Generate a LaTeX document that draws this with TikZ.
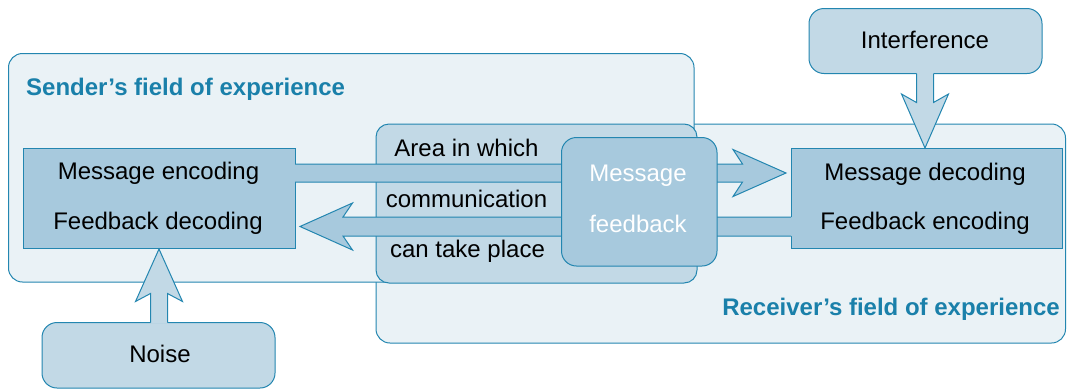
\documentclass[tikz,border=0pt]{standalone}
\usepackage{fontspec}
\setmainfont{Liberation Sans}
\definecolor{edge}{HTML}{2386B0}
\definecolor{ttlcol}{HTML}{1A80AA}
\definecolor{pale}{HTML}{EAF2F6}
\definecolor{mid}{HTML}{C2D9E6}
\definecolor{deep}{HTML}{A7C9DD}
\tikzset{
  field/.style={draw=edge, fill=pale, line width=1pt, rounded corners=14pt, inner sep=0pt, shape=rectangle},
  areabox/.style={draw=edge, fill=mid, line width=1pt, rounded corners=13pt, inner sep=0pt, shape=rectangle},
  proc/.style={draw=edge, fill=deep, line width=1pt, inner sep=0pt, shape=rectangle},
  srcbox/.style={draw=edge, fill=mid, line width=1pt, rounded corners=15pt, inner sep=0pt, shape=rectangle},
  fbbox/.style={draw=edge, fill=deep, line width=1pt, rounded corners=15pt, inner sep=0pt, shape=rectangle},
  lbl/.style={font=\fontsize{24}{28}\selectfont, text=black, anchor=base, inner sep=0pt},
  wlbl/.style={lbl, text=white},
  ttl/.style={font=\bfseries\fontsize{24}{28}\selectfont, text=ttlcol, inner sep=0pt},
  arrline/.style={draw=edge, line width=1pt, line join=miter},
}
\begin{document}
\begin{tikzpicture}[x=1pt,y=-1pt]
\useasboundingbox (0,0) rectangle (1067,389);

% fields of experience
\node[field, minimum width=689.5pt, minimum height=219pt] (recvfield) at (720.75,233.5) {};
\node[field, minimum width=685.5pt, minimum height=228.5pt] (sendfield) at (351.25,167.75) {};
\node[areabox, minimum width=321pt, minimum height=159pt] (area) at (536.5,203.5) {};

\node[ttl, anchor=base west] (sendttl) at (26,95) {Sender’s field of experience};
\node[ttl, anchor=base east] (recvttl) at (1060,315) {Receiver’s field of experience};

\node[lbl] (a1) at (466.5,156.7) {Area in which};
\node[lbl] (a2) at (466.5,207.3) {communication};
\node[lbl] (a3) at (467.5,257.5) {can take place};

% sender and receiver boxes
\node[proc, minimum width=272pt, minimum height=100pt] (sender) at (159,198) {};
\node[proc, minimum width=271pt, minimum height=100.5pt] (receiver) at (926.5,198.25) {};
\node[lbl] (s1) at (158.5,179.3) {Message encoding};
\node[lbl] (s2) at (158,229.3) {Feedback decoding};
\node[lbl] (r1) at (925,180) {Message decoding};
\node[lbl] (r2) at (925,229.3) {Feedback encoding};

% message arrow
\fill[deep] (294,164) -- (742.5,164) -- (733,149.5) -- (786,173) -- (733,196.5) -- (742.5,182) -- (294,182) -- cycle;
\draw[arrline] (295,164) -- (742.5,164) -- (733,149.5) -- (786,173) -- (733,196.5) -- (742.5,182) -- (295,182);
% feedback arrow
\fill[deep] (792,217) -- (343,217) -- (352.5,203) -- (300,226.5) -- (352.5,250) -- (343,236) -- (792,236) -- cycle;
\draw[arrline] (791,217) -- (343,217) -- (352.5,203) -- (300,226.5) -- (352.5,250) -- (343,236) -- (791,236);

% message / feedback box
\node[fbbox, minimum width=155.5pt, minimum height=128.5pt] (mf) at (639.25,201.75) {};
\node[wlbl] (m1) at (638,181) {Message};
\node[wlbl] (m2) at (638,232.3) {feedback};

% interference
\node[srcbox, minimum width=233pt, minimum height=65pt] (interf) at (925.5,41) {};
\node[lbl] (il) at (925,48.3) {Interference};
\fill[mid] (916.5,72.5) -- (916.5,102.5) -- (901.5,94) -- (925,148) -- (948.5,94) -- (933.5,102.5) -- (933.5,72.5) -- cycle;
\draw[arrline] (916.5,73.5) -- (916.5,102.5) -- (901.5,94) -- (925,148) -- (948.5,94) -- (933.5,102.5) -- (933.5,73.5);

% noise
\node[srcbox, minimum width=233pt, minimum height=65.5pt] (noise) at (158.5,355.25) {};
\node[lbl] (nl) at (160,362.7) {Noise};
\fill[mid] (150.5,323.5) -- (150.5,293.5) -- (135.5,301.5) -- (159,249) -- (182.5,301.5) -- (167.5,293.5) -- (167.5,323.5) -- cycle;
\draw[arrline] (150.5,322.5) -- (150.5,293.5) -- (135.5,301.5) -- (159,249) -- (182.5,301.5) -- (167.5,293.5) -- (167.5,322.5);
\end{tikzpicture}
\end{document}
